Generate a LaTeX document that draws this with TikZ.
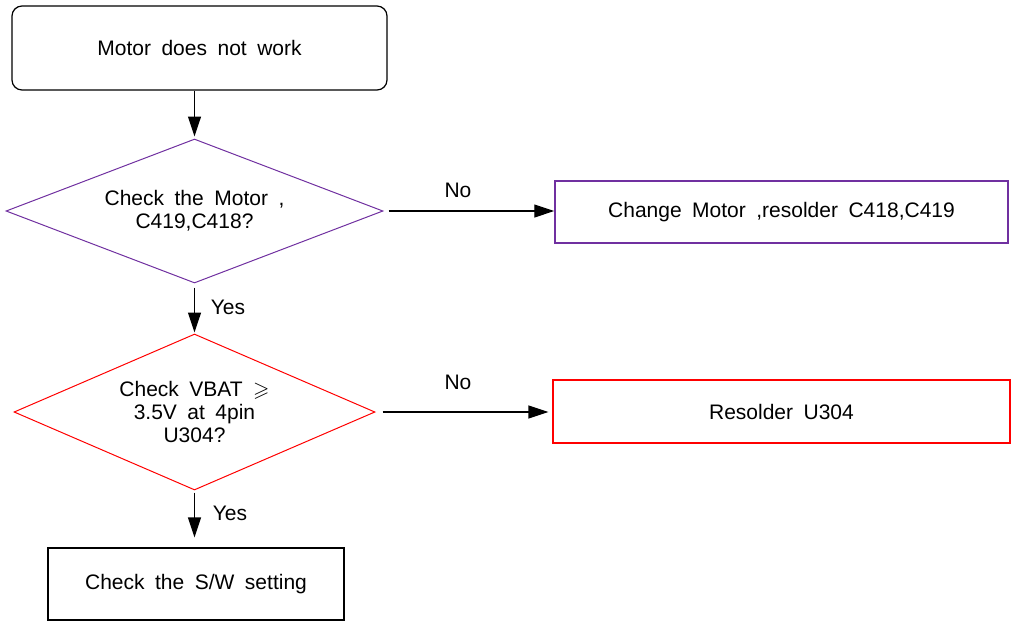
\documentclass[tikz,border=0pt]{standalone}
\usepackage{fontspec}
\setmainfont{Liberation Sans}
\usepackage{amssymb}
\usetikzlibrary{arrows.meta,shapes.geometric}
\definecolor{dpurple}{RGB}{112,48,160}
\definecolor{dred}{RGB}{255,0,0}
\protected\def\widespace{\spaceskip=0.5em\relax}
\tikzset{
	ftext/.style={font=\fontsize{10.5}{11.5}\selectfont\widespace, align=center, inner sep=0pt},
	startbox/.style={ftext, draw, line width=0.6pt, rounded corners=5pt},
	plainbox/.style={ftext, draw, line width=0.6pt},
	decide/.style={ftext, diamond, draw, line width=0.5pt},
	arrowline/.style={line width=0.6pt, -{Triangle[length=10pt,width=6.5pt]}},
}

\begin{document}
\begin{tikzpicture}[x=0.5pt,y=-0.5pt]
			%%%%% START %%%%%
			\useasboundingbox (0,0) rectangle (1012,622);
			
			\node[startbox, minimum width=187.5pt, minimum height=42pt] (start) at (199.5,48) {Motor does not work};
			
			\node[decide, draw=dpurple, minimum width=188.5pt, minimum height=72pt, aspect=2.6] (motor) at (194.5,211) {Check the Motor ,\\C419,C418?};
			\node[plainbox, draw=dpurple, line width=0.75pt, minimum width=226.5pt, minimum height=31pt] (change) at (781.5,212) {Change Motor ,resolder C418,C419};
			
			\node[decide, draw=dred, minimum width=180.5pt, minimum height=78pt, aspect=2.3] (vbat) at (194.5,412) {Check VBAT $\geqslant$\\3.5V at 4pin\\U304?};
			\node[plainbox, draw=dred, minimum width=228.5pt, minimum height=31.5pt] (resolder) at (781.5,411.5) {Resolder U304};
			
			\node[plainbox, minimum width=148pt, minimum height=36pt] (sw) at (196,584) {Check the S/W setting};
			
			% labels
			\node[ftext] (no1) at (458,190) {No};
			\node[ftext] (no2) at (458,382) {No};
			\node[ftext] (yes1) at (228,307) {Yes};
			\node[ftext] (yes2) at (230,513) {Yes};
			
			% connectors
			\draw[arrowline, shorten >=1pt] (start.south -| motor.north) -- (motor.north);
			\draw[arrowline, shorten <=2.5pt] (motor.east) -- (change.west |- motor.east);
			\draw[arrowline, shorten <=2pt, shorten >=0.5pt] (motor.south) -- (vbat.north);
			\draw[arrowline, shorten <=3.5pt, shorten >=2pt] (vbat.east) -- (resolder.west |- vbat.east);
			\draw[arrowline, shorten <=1pt, shorten >=5pt] (vbat.south) -- (vbat.south |- sw.north);
			
			%%%%% END %%%%%
\end{tikzpicture}
\end{document}
